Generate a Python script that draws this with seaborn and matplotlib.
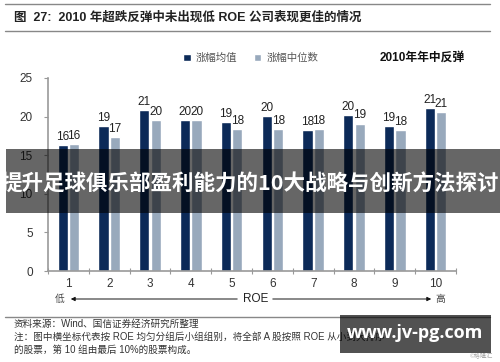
import pandas as pd
import seaborn as sns
import matplotlib.pyplot as plt
from matplotlib.patches import Rectangle
from matplotlib.lines import Line2D

# data
groups = ["1", "2", "3", "4", "5", "6", "7", "8", "9", "10"]
mean_rise = [16.3, 18.8, 20.8, 19.6, 19.3, 20.1, 18.2, 20.2, 18.8, 21.1]
median_rise = [16.4, 17.3, 19.6, 19.6, 18.4, 18.4, 18.4, 19.1, 18.3, 20.6]
series_names = ["涨幅均值", "涨幅中位数"]
yticks = [0, 5, 10, 15, 20, 25]

title = "图  27:  2010 年超跌反弹中未出现低 ROE 公司表现更佳的情况"
chart_tag = "2010年年中反弹"
banner = "提升足球俱乐部盈利能力的10大战略与创新方法探讨"
source = "资料来源：Wind、国信证券经济研究所整理"
note1 = "注：图中横坐标代表按 ROE 均匀分组后小组组别，将全部 A 股按照 ROE 从小到大排序"
note2 = "的股票，第 10 组由最后 10%的股票构成。"

DARK = "#0c2a58"
LIGHT = "#98a9bc"


def make_df():
    rows = []
    for g, m, md in zip(groups, mean_rise, median_rise):
        rows.append({"group": g, "series": series_names[0], "value": m})
        rows.append({"group": g, "series": series_names[1], "value": md})
    return pd.DataFrame(rows)


def make_image(df, output_path="out.png"):
    sns.set_theme(style="white")
    plt.rcParams["font.family"] = ["Liberation Sans", "Noto Sans CJK SC", "DejaVu Sans"]

    fig = plt.figure(figsize=(5, 3.62), dpi=100)
    W, H = 500, 362
    ax = fig.add_axes([48 / W, 1 - 271 / H, (456 - 48) / W, (271 - 78) / H])

    sns.barplot(data=df, x="group", y="value", hue="series", order=groups,
                hue_order=series_names, palette=[DARK, LIGHT], width=0.56,
                gap=0.12, saturation=1, ax=ax, legend=True, errorbar=None)

    for cont in ax.containers:
        ax.bar_label(cont, fmt="%.0f", padding=1.5, fontsize=8.5, color="#222")

    ax.set_ylim(0, 25)
    ax.set_xlim(-0.5, 9.5)
    ax.set_yticks(yticks)
    ax.set_xlabel("")
    ax.set_ylabel("")
    for s in ["top", "right"]:
        ax.spines[s].set_visible(False)
    for s in ["left", "bottom"]:
        ax.spines[s].set_color("#999999")
        ax.spines[s].set_linewidth(1.2)
    ax.tick_params(axis="y", left=True, length=3, width=0.8, color="#999",
                   pad=8, labelsize=8.5, labelcolor="#333")
    ax.tick_params(axis="x", which="major", bottom=False, length=0, pad=5,
                   labelsize=8.5, labelcolor="#333")
    ax.set_xticks([i - 0.5 for i in range(11)], minor=True)
    ax.tick_params(axis="x", which="minor", bottom=True, direction="inout",
                   length=5, width=0.8, color="#999")

    handles, labels = ax.get_legend_handles_labels()
    ax.get_legend().remove()
    fig.legend(handles, labels, loc="center left", bbox_to_anchor=(174 / W, 1 - 58 / H),
               ncol=2, frameon=False, handlelength=0.7, handleheight=0.7,
               handletextpad=0.5, columnspacing=1.6, fontsize=7.5, labelcolor="#555")
    fig.text(380 / W, 1 - 58 / H, chart_tag, fontsize=8.5, fontweight="bold",
             va="center", ha="left", color="#111")

    # header / footer rules
    for yy in [4, 30.5, 317]:
        fig.add_artist(Line2D([5 / W, 490 / W], [1 - yy / H] * 2, color="#888",
                              lw=1.0, transform=fig.transFigure))
    fig.text(14 / W, 1 - 18 / H, title, fontsize=9, fontweight="bold",
             va="center", ha="left", color="#222")

    # ROE arrow row
    ay = 1 - 299 / H
    fig.text(60 / W, ay, "低", fontsize=7, color="#444", ha="center", va="center")
    fig.text(440 / W, ay, "高", fontsize=7, color="#444", ha="center", va="center")
    fig.text(256 / W, ay, "ROE", fontsize=8.5, color="#222", ha="center", va="center")
    fig.add_artist(plt.Annotation("", xy=(68 / W, ay), xytext=(240 / W, ay),
                                  xycoords="figure fraction", textcoords="figure fraction",
                                  arrowprops=dict(arrowstyle="-|>", color="#111", lw=0.7,
                                                  mutation_scale=6)))
    fig.add_artist(plt.Annotation("", xy=(434 / W, ay), xytext=(270 / W, ay),
                                  xycoords="figure fraction", textcoords="figure fraction",
                                  arrowprops=dict(arrowstyle="-|>", color="#111", lw=0.7,
                                                  mutation_scale=6)))

    # footnotes
    fig.text(14 / W, 1 - 324 / H, source, fontsize=6.9, color="#333", va="center")
    fig.text(14 / W, 1 - 337 / H, note1, fontsize=6.9, color="#333", va="center")
    fig.text(14 / W, 1 - 350 / H, note2, fontsize=6.9, color="#333", va="center")
    fig.text(493 / W, 1 - 356 / H, "©格隆汇", fontsize=4.5, color="#aaa",
             ha="right", va="center")

    # overlay banner
    fig.add_artist(Rectangle((6 / W, 1 - 213 / H), 1, 64 / H, transform=fig.transFigure,
                             facecolor="black", alpha=0.6, edgecolor="none", zorder=10))
    fig.text(250 / W, 1 - 184 / H, banner, fontsize=15.5, fontweight="bold", color="white",
             ha="center", va="center", family=["Noto Sans CJK SC", "DejaVu Sans"], zorder=11)

    # watermark box
    fig.add_artist(Rectangle((340 / W, 1 - 353 / H), 151 / W, 38 / H, transform=fig.transFigure,
                             facecolor="black", alpha=0.68, edgecolor="none", zorder=10))
    fig.text(415 / W, 1 - 333 / H, "www.jv-pg.com", fontsize=13, fontweight="bold",
             color="white", ha="center", va="center", family=["Open Sans", "DejaVu Sans"],
             zorder=11)

    fig.savefig(output_path, dpi=100)
    plt.close(fig)


if __name__ == "__main__":
    make_image(make_df())
